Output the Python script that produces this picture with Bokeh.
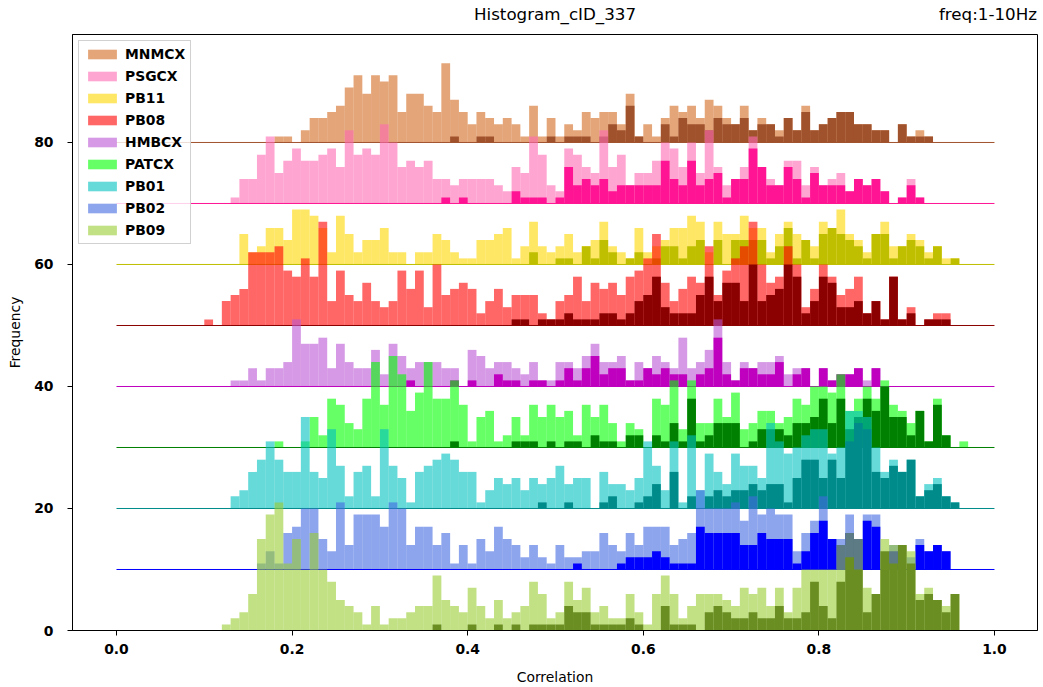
import numpy as np
from bokeh.plotting import figure
from bokeh.models import Range1d, FixedTicker, Legend, LegendItem, LinearAxis
from bokeh.embed import file_html
from bokeh.resources import INLINE

# ---------------- data (counts per 0.01-wide correlation bin, 0.00 .. 1.00) ----------------
stations = ["MNMCX", "PSGCX", "PB11", "PB08", "HMBCX", "PATCX", "PB01", "PB02", "PB09"]
offsets = [80, 70, 60, 50, 40, 30, 20, 10, 0]

MNMCX_light = [0,0,0,0,0,0,0,0,0,0, 0,0,0,0,0,0,0,0,1,1, 0,2,4,4,5,6,9,11,8,11,
               10,11,5,8,8,6,5,13,7,5, 3,5,4,3,4,3,1,6,1,4, 1,3,2,5,4,5,5,3,8,1,
               3,1,4,6,5,6,4,7,6,4, 3,6,2,4,3,2,4,2,6,2, 3,4,5,5,3,3,2,2,0,3,
               1,2,1,0,0,0,0,0,0,0]
MNMCX_dark = [0]*30 + [0,0,0,0,0,0,0,0,1,0, 0,1,1,0,0,0,0,0,0,1, 0,1,1,1,0,1,3,2,6,1,
               0,0,3,1,4,3,3,2,4,3, 3,4,2,3,3,1,4,2,5,2, 3,4,5,5,3,3,2,2,0,3,
               1,1,1,0,0,0,0,0,0,0]

PSGCX_light = [0,0,0,0,0,0,0,0,0,0, 0,0,0,1,4,4,8,11,5,7, 9,7,7,8,9,6,12,8,9,8,
               13,10,6,7,6,7,4,4,3,4, 4,4,4,3,2,6,5,11,8,3, 2,9,8,6,5,12,6,8,3,5,
               5,7,10,9,6,10,5,12,6,3, 4,6,11,6,4,3,7,7,3,6, 3,4,5,2,4,3,4,2,0,1,
               4,1,0,0,0,0,0,0,0,0]
PSGCX_dark = [0]*30 + [0,0,0,0,0,0,0,1,0,1, 0,0,0,0,0,2,1,1,1,0, 1,6,3,4,3,4,2,3,3,3,
               3,3,7,4,3,7,3,4,5,1, 4,4,9,6,3,3,6,4,1,5, 3,3,3,2,4,3,4,2,0,1,
               3,1,0,0,0,0,0,0,0,0]

PB11_light = [0,0,0,0,0,0,0,0,0,0, 0,0,0,0,5,2,3,6,6,4, 9,9,8,6,2,8,5,2,4,4,
              6,2,2,0,2,2,5,4,2,1, 1,4,4,5,6,1,3,7,3,2, 3,5,2,3,4,7,3,2,1,6,
              2,3,4,6,6,8,7,2,7,5, 5,8,6,6,2,5,7,5,4,3, 7,6,9,5,4,2,5,7,3,3,
              5,4,2,3,1,1,0,0,0,0]
PB11_dark = [0]*40 + [0,0,0,0,0,0,0,2,0,0, 1,1,0,3,1,4,2,0,1,2, 0,1,3,3,1,3,4,0,4,0,
              4,4,4,4,1,3,6,1,4,1, 5,6,5,4,3,1,5,5,1,3, 4,3,1,3,0,1,0,0,0,0]

PB08_light = [0,0,0,0,0,0,0,0,0,0, 1,0,4,5,6,12,12,12,13,9, 8,11,8,17,4,9,5,4,7,4,
              3,4,9,6,9,3,10,5,6,7, 6,2,4,6,3,5,5,5,2,1, 4,5,8,4,7,6,7,5,8,9,
              11,15,7,4,6,8,7,13,5,9, 11,13,17,10,7,8,13,10,3,6, 10,8,5,6,8,2,4,1,8,1,
              3,0,1,2,2,0,0,0,0,0]
PB08_dark = [0]*40 + [0,0,0,0,0,1,1,0,1,1, 1,2,1,1,1,2,2,1,2,4, 5,8,3,2,2,2,5,8,4,7,
              7,4,10,4,5,6,10,8,2,4, 8,7,3,3,4,2,4,1,8,1, 2,0,1,1,1,0,0,0,0,0]

HMBCX_light = [0,0,0,0,0,0,0,0,0,0, 0,0,0,1,1,3,1,3,3,4, 11,7,7,8,3,7,4,3,3,6,
               2,7,5,3,4,4,4,3,3,0, 6,5,3,4,4,3,2,4,1,1, 4,4,3,5,7,4,4,5,1,4,
               3,5,4,3,8,3,4,6,11,4, 1,4,3,4,4,5,2,3,3,0, 3,1,2,2,3,1,3,0,0,0,
               0,0,0,0,0,0,0,0,0,0]
HMBCX_dark = [0]*30 + [0,0,0,1,0,0,0,0,1,0, 1,0,0,2,1,1,0,1,1,0, 1,3,1,3,5,2,3,3,1,1,
               3,2,3,2,2,0,2,3,8,2, 1,3,3,2,2,4,0,2,3,0, 3,1,2,2,3,0,3,0,0,0,
               0,0,0,0,0,0,0,0,0,0]

PATCX_light = [0,0,0,0,0,0,0,0,0,0, 0,0,0,0,0,0,0,0,1,0, 0,1,5,2,8,7,4,3,8,14,
               7,15,12,6,9,14,8,8,11,7, 1,5,6,1,2,5,2,7,5,7, 5,6,2,7,5,7,4,1,4,3,
               0,8,7,11,3,11,4,4,8,5, 9,3,4,6,6,4,5,8,7,10, 10,9,12,6,8,10,8,11,7,6,
               4,6,1,8,2,0,1,0,0,0]
PATCX_dark = [0]*30 + [0,0,0,0,0,0,0,0,1,0, 0,0,0,0,0,1,1,1,0,1, 0,1,1,0,2,1,1,0,2,2,
               0,2,1,4,1,8,1,2,4,4, 4,0,1,3,3,3,2,4,4,5, 8,4,8,3,5,8,6,10,5,5,
               2,6,1,7,2,0,0,0,0,0]

PB01_light = [0,0,0,0,0,0,0,0,0,0, 0,0,0,2,3,6,8,11,8,6, 6,15,6,5,13,7,2,6,7,2,
              13,7,5,1,6,7,8,9,8,6, 6,1,3,5,4,5,3,5,4,5, 7,4,5,5,0,6,4,4,3,5,
              11,7,3,11,1,12,3,9,6,4, 9,7,7,5,14,11,9,10,12,13, 13,9,10,16,16,15,10,6,8,6,
              8,2,4,5,2,1,0,0,0,0]
PB01_dark = [0]*40 + [0,0,0,0,0,0,0,0,1,0, 0,1,0,0,0,1,2,0,0,1, 2,4,0,6,0,2,0,2,3,2,
              3,3,4,3,4,4,1,5,8,8, 5,8,5,11,14,13,6,5,7,6, 8,2,3,4,2,1,0,0,0,0]

PB02_light = [0,0,0,0,0,0,0,0,0,0, 0,0,0,0,0,0,1,3,1,6, 7,10,10,5,3,11,4,9,9,9,
              7,11,10,4,7,7,4,6,1,4, 1,5,3,7,5,4,2,4,2,1, 4,2,2,3,3,6,4,3,6,4,
              7,7,7,4,5,6,13,10,10,10, 11,8,12,9,10,9,9,3,6,8, 12,5,5,9,5,9,9,0,4,0,
              2,5,3,4,3,0,0,0,0,0]
PB02_dark = [0]*50 + [0,0,1,0,0,0,0,1,2,2, 2,3,2,1,1,1,7,6,6,6, 6,4,4,6,5,5,5,1,3,6,
              8,5,4,6,5,8,7,0,3,0, 0,4,3,4,3,0,0,0,0,0]

PB09_light = [0,0,0,0,0,0,0,0,0,0, 0,0,1,2,3,6,15,19,21,11, 15,10,16,10,8,5,4,3,1,4,
              1,2,2,3,4,4,9,5,4,3, 7,4,2,5,2,3,4,8,6,2, 3,8,5,7,3,4,2,2,6,3,
              1,6,9,6,2,4,6,6,6,5, 4,7,6,7,4,7,3,7,10,10, 10,10,14,16,15,7,6,15,14,14,
              13,6,7,5,4,6,0,0,0,0]
PB09_dark = [0]*30 + [0,0,0,0,0,0,1,0,0,0, 1,0,0,1,0,1,0,1,1,1, 1,4,3,3,1,1,1,1,2,1,
              0,0,4,1,1,1,0,3,4,3, 2,2,3,2,2,4,2,2,3,8, 4,2,8,12,10,3,6,13,11,14,
              11,5,6,5,3,6,0,0,0,0]

x_ticks = [0.0, 0.2, 0.4, 0.6, 0.8, 1.0]
x_tick_labels = ["0.0", "0.2", "0.4", "0.6", "0.8", "1.0"]
y_ticks = [0, 20, 40, 60, 80]
title_text = "Histogram_cID_337"
subtitle_text = "freq:1-10Hz"

light_series = [MNMCX_light, PSGCX_light, PB11_light, PB08_light, HMBCX_light,
                PATCX_light, PB01_light, PB02_light, PB09_light]
dark_series = [MNMCX_dark, PSGCX_dark, PB11_dark, PB08_dark, HMBCX_dark,
               PATCX_dark, PB01_dark, PB02_dark, PB09_dark]

light_colors = ["chocolate", "hotpink", "gold", "red", "mediumorchid",
                "lime", "#00bfbf", "royalblue", "yellowgreen"]
dark_colors = ["sienna", "deeppink", "#bfbf00", "darkred", "#bf00bf",
               "green", "darkcyan", "blue", "olivedrab"]

# ---------------- figure ----------------
X0, X1 = -0.0501, 1.049
p = figure(width=1043, height=687, output_backend="svg", toolbar_location=None,
           x_range=Range1d(X0, X1), y_range=Range1d(0, 97.7),
           min_border_left=72, min_border_right=6, min_border_top=34, min_border_bottom=57)
p.background_fill_color = "white"
p.border_fill_color = "white"
p.xgrid.grid_line_color = None
p.ygrid.grid_line_color = None
p.outline_line_color = "black"
p.outline_line_width = 1
p.outline_line_alpha = 1

bin_w = 0.01
bin_left = np.arange(100) * bin_w
bin_right = bin_left + bin_w

legend_items = []
for name, off, lv, dv, lc, dc in zip(stations, offsets, light_series, dark_series,
                                     light_colors, dark_colors):
    lv = np.asarray(lv, dtype=float)
    dv = np.asarray(dv, dtype=float)
    r = p.quad(left=bin_left, right=bin_right, bottom=off, top=off + lv,
               fill_color=lc, fill_alpha=0.6, line_color=None)
    p.quad(left=bin_left, right=bin_right, bottom=off, top=off + dv,
           fill_color=dc, fill_alpha=1.0, line_color=None)
    p.segment(x0=0, y0=off, x1=1, y1=off, line_color=dc, line_width=1)
    legend_items.append(LegendItem(label=name, renderers=[r]))

legend = Legend(items=legend_items, location="top_left", margin=6, padding=5,
                spacing=6, glyph_width=36, glyph_height=12, label_height=12,
                label_standoff=5,
                label_text_font="DejaVu Sans", label_text_font_style="bold",
                label_text_font_size="13.9px", label_text_color="black",
                background_fill_color="white", background_fill_alpha=0.8,
                border_line_color="#cccccc", border_line_width=1.5, border_line_alpha=0.9)
p.add_layout(legend)

# axes
for ax in (p.xaxis[0], p.yaxis[0]):
    ax.major_label_text_font = "DejaVu Sans"
    ax.major_label_text_font_style = "bold"
    ax.major_label_text_font_size = "13.9px"
    ax.major_label_text_color = "black"
    ax.axis_label_text_font = "DejaVu Sans"
    ax.axis_label_text_font_style = "normal"
    ax.axis_label_text_font_size = "13.9px"
    ax.axis_label_text_color = "black"
    ax.major_tick_in = 0
    ax.major_tick_out = 5
    ax.minor_tick_in = 0
    ax.minor_tick_out = 0
    ax.axis_line_color = "black"
    ax.major_tick_line_color = "black"

p.xaxis.ticker = FixedTicker(ticks=x_ticks)
p.xaxis.major_label_overrides = {t: s for t, s in zip(x_ticks, x_tick_labels)}
p.xaxis.axis_label = "Correlation"
p.xaxis.major_label_standoff = 8
p.xaxis.axis_label_standoff = 12

p.yaxis.ticker = FixedTicker(ticks=y_ticks)
p.yaxis.axis_label = "Frequency"
p.yaxis.major_label_standoff = 14
p.yaxis.axis_label_standoff = 8

# title row: centred title and right-aligned frequency band, as labels of a bare top axis
mid_x = (X0 + X1) / 2
right_x = X1 - 0.0564   # centre of the right-aligned text
title_axis = LinearAxis(ticker=FixedTicker(ticks=[mid_x, right_x]),
                        major_label_overrides={mid_x: title_text, right_x: subtitle_text})
title_axis.axis_line_color = None
title_axis.major_tick_line_color = None
title_axis.minor_tick_line_color = None
title_axis.major_tick_in = 0
title_axis.major_tick_out = 0
title_axis.minor_tick_in = 0
title_axis.minor_tick_out = 0
title_axis.major_label_standoff = 11
title_axis.major_label_text_font = "DejaVu Sans"
title_axis.major_label_text_font_style = "normal"
title_axis.major_label_text_font_size = "16.7px"
title_axis.major_label_text_color = "black"
p.add_layout(title_axis, "above")

open("out.html", "w").write(file_html(p, INLINE))
